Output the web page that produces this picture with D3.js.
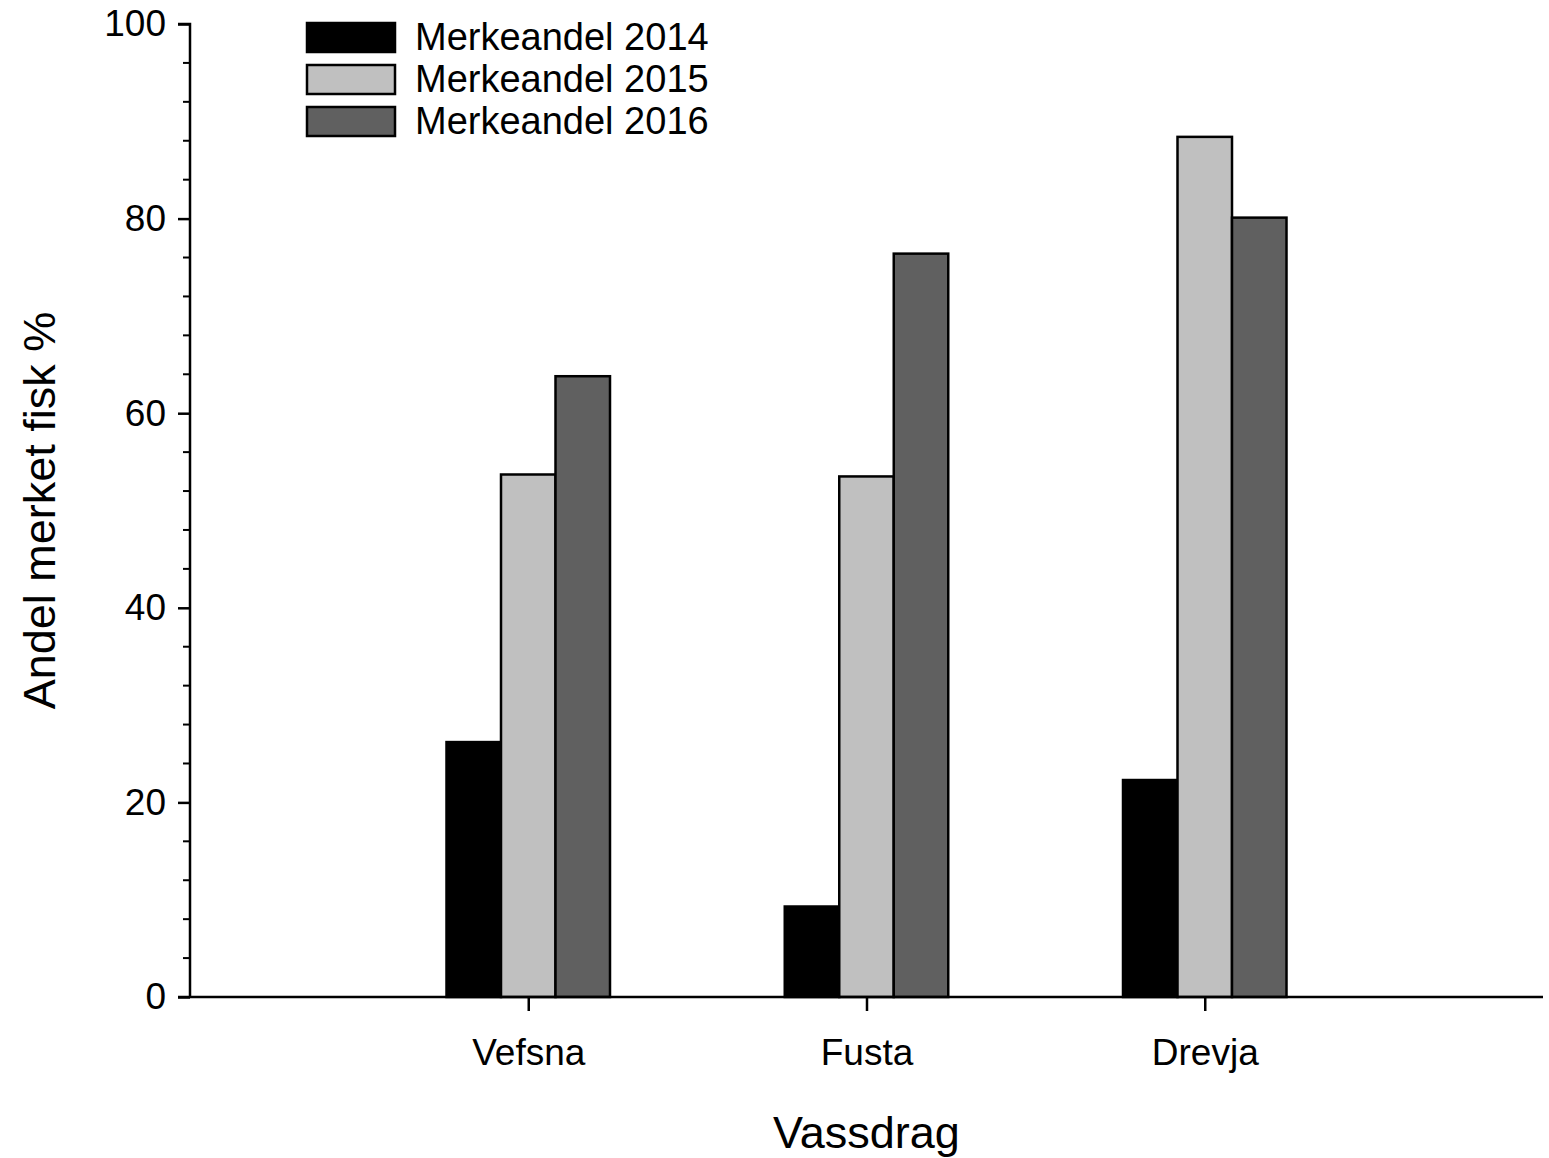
<!DOCTYPE html>
<html><head><meta charset="utf-8">
<script src="https://cdn.jsdelivr.net/npm/d3@7"></script>
<style>body{margin:0;background:#fff}svg{display:block}text{font-family:"Liberation Sans",Arial,sans-serif;fill:#000}</style>
</head><body>
<svg id="c" width="1549" height="1158"></svg>
<script>
const categories = ["Vefsna", "Fusta", "Drevja"];
const seriesNames = ["Merkeandel 2014", "Merkeandel 2015", "Merkeandel 2016"];
const values2014 = [26.2, 9.3, 22.3];
const values2015 = [53.7, 53.5, 88.4];
const values2016 = [63.8, 76.4, 80.1];
const yTicks = [0, 20, 40, 60, 80, 100];
const colors = ["#000000", "#c0c0c0", "#606060"];
const series = [values2014, values2015, values2016];

const svg = d3.select("#c");
const x0 = 190, x1 = 1543, yBottom = 997, yTop = 24;
const x = d3.scaleLinear().domain([0, 4]).range([x0, x1]);
const y = d3.scaleLinear().domain([0, 100]).range([yBottom, yTop]);
const barW = 54.5;

// bars
series.forEach((vals, si) => {
  svg.append("g").selectAll("rect").data(vals).join("rect")
    .attr("x", (d, i) => x(i + 1) + (si - 1.5) * barW)
    .attr("y", d => y(d))
    .attr("width", barW)
    .attr("height", d => y(0) - y(d))
    .attr("fill", colors[si])
    .attr("stroke", "#000")
    .attr("stroke-width", 2.5);
});

// y axis
const yAxis = d3.axisLeft(y).tickValues(yTicks).tickSize(12).tickPadding(12).tickFormat(d3.format("d"));
const gy = svg.append("g").attr("transform", `translate(${x0},0)`).call(yAxis);
gy.select(".domain").attr("stroke", "#000").attr("stroke-width", 2.5).attr("d", `M0,${yBottom}V${yTop}H-12`);
gy.selectAll(".tick line").attr("stroke", "#000").attr("stroke-width", 2.5);
gy.selectAll(".tick text").style("font-size", "37px").attr("font-family", "Liberation Sans, Arial, sans-serif");
const minor = d3.range(0, 101, 4).filter(v => v % 20 !== 0);
gy.selectAll(".minor").data(minor).join("line").attr("class", "minor")
  .attr("x1", -7).attr("x2", 0).attr("y1", d => y(d)).attr("y2", d => y(d))
  .attr("stroke", "#000").attr("stroke-width", 2);

// x axis
const xAxis = d3.axisBottom(x).tickValues([1, 2, 3]).tickSize(14).tickPadding(28)
  .tickFormat(d => categories[d - 1]);
const gx = svg.append("g").attr("transform", `translate(0,${yBottom})`).call(xAxis);
gx.select(".domain").attr("stroke", "#000").attr("stroke-width", 2.5).attr("d", `M${x0 - 12},0H${x1}`);
gx.selectAll(".tick line").attr("stroke", "#000").attr("stroke-width", 2.5);
gx.selectAll(".tick text").style("font-size", "37px").attr("font-family", "Liberation Sans, Arial, sans-serif");

// axis titles
svg.append("text").attr("x", (x0 + x1) / 2).attr("y", 1148).attr("text-anchor", "middle")
  .style("font-size", "45px").text("Vassdrag");
svg.append("text").attr("transform", `translate(55,${(yBottom + yTop) / 2}) rotate(-90)`)
  .attr("text-anchor", "middle").style("font-size", "45px").text("Andel merket fisk %");

// legend
const lg = svg.append("g");
seriesNames.forEach((name, i) => {
  const ly = 23 + i * 42;
  lg.append("rect").attr("x", 307).attr("y", ly).attr("width", 88).attr("height", 29)
    .attr("fill", colors[i]).attr("stroke", "#000").attr("stroke-width", 2.5);
  lg.append("text").attr("x", 415).attr("y", ly + 27).style("font-size", "38px").text(name);
});
</script>
</body></html>
